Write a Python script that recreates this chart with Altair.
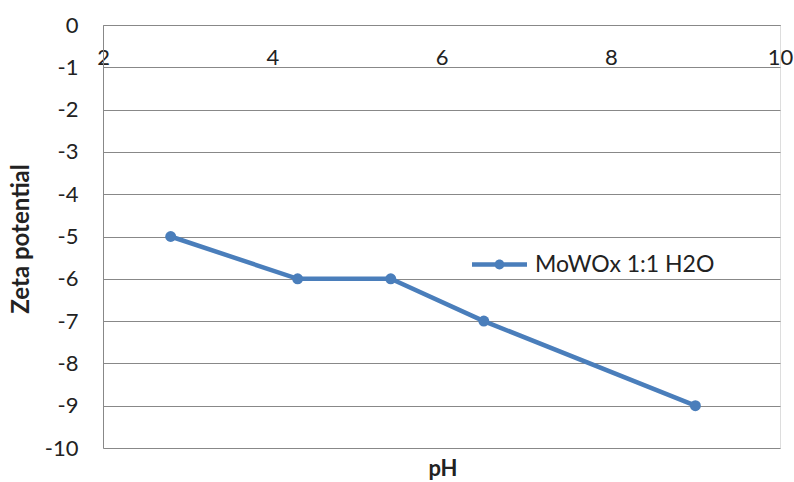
import altair as alt
import pandas as pd

# Zeta potential measurements against pH
ph = [2.8, 4.3, 5.4, 6.5, 9.0]
zeta = [-5, -6, -6, -7, -9]
series = "MoWOx 1:1 H2O"

x_ticks = [2, 4, 6, 8, 10]
y_ticks = [0, -1, -2, -3, -4, -5, -6, -7, -8, -9, -10]

df = pd.DataFrame({"pH": ph, "zeta": zeta, "series": [series] * len(ph)})

FONT = "Lato"
BLUE = "#4a7ebb"
GRID = "#888888"
TEXT = "#222222"

PLOT_W = 677
PLOT_H = 423

# legend symbol: a short line with a dot in the middle
legend_symbol = (
    "M-2.5,-0.2 L2.5,-0.2 L2.5,0.2 L-2.5,0.2 Z "
    "M0,-0.45 A0.45,0.45 0 1,1 0,0.45 A0.45,0.45 0 1,1 0,-0.45 Z"
)

# plain hyphen for negative numbers
plain_label = "'' + datum.value"

x_enc = alt.X(
    "pH:Q",
    scale=alt.Scale(domain=[2, 10], nice=False, zero=False),
    axis=alt.Axis(
        orient="bottom",
        offset=-PLOT_H,
        values=x_ticks,
        labelExpr=plain_label,
        ticks=False,
        grid=False,
        domainColor=GRID,
        labelFont=FONT,
        labelFontSize=22,
        labelColor=TEXT,
        labelPadding=22,
        labelFlush=False,
        title="pH",
        titleFont=FONT,
        titleFontSize=22,
        titleFontWeight="bold",
        titleColor=TEXT,
        titleX=PLOT_W / 2 + 1,
        titleY=PLOT_H + 20,
        titleBaseline="middle",
    ),
)

y_enc = alt.Y(
    "zeta:Q",
    scale=alt.Scale(domain=[-10, 0], nice=False),
    axis=alt.Axis(
        values=y_ticks,
        labelExpr=plain_label,
        ticks=False,
        gridColor=GRID,
        gridWidth=1,
        domainColor=GRID,
        labelFont=FONT,
        labelFontSize=22,
        labelColor=TEXT,
        labelPadding=25,
        title="Zeta potential",
        titleFont=FONT,
        titleFontSize=24,
        titleFontWeight="bold",
        titleColor=TEXT,
        titleAngle=-90,
        titleX=-82,
        titleY=PLOT_H / 2 + 2,
        titleBaseline="middle",
        titleAlign="center",
    ),
)

color_enc = alt.Color(
    "series:N",
    scale=alt.Scale(range=[BLUE]),
    legend=alt.Legend(
        title=None,
        orient="none",
        legendX=385,
        legendY=228,
        symbolType=legend_symbol,
        symbolSize=484,
        symbolFillColor=BLUE,
        symbolStrokeWidth=0,
        labelFont=FONT,
        labelFontSize=23,
        labelColor=TEXT,
        labelOffset=24,
        labelLimit=400,
        padding=0,
    ),
)

chart = (
    alt.Chart(df)
    .mark_line(strokeWidth=4.5, point=alt.OverlayMarkDef(filled=True, size=120))
    .encode(x=x_enc, y=y_enc, color=color_enc)
    .properties(
        width=PLOT_W,
        height=PLOT_H,
        autosize=alt.AutoSizeParams(type="none"),
        padding={"left": 103, "top": 25, "right": 14, "bottom": 34},
    )
    .configure_view(stroke=None)
    .configure(background="white")
)

chart.save("out.html", embed_options={"renderer": "svg", "actions": False})
